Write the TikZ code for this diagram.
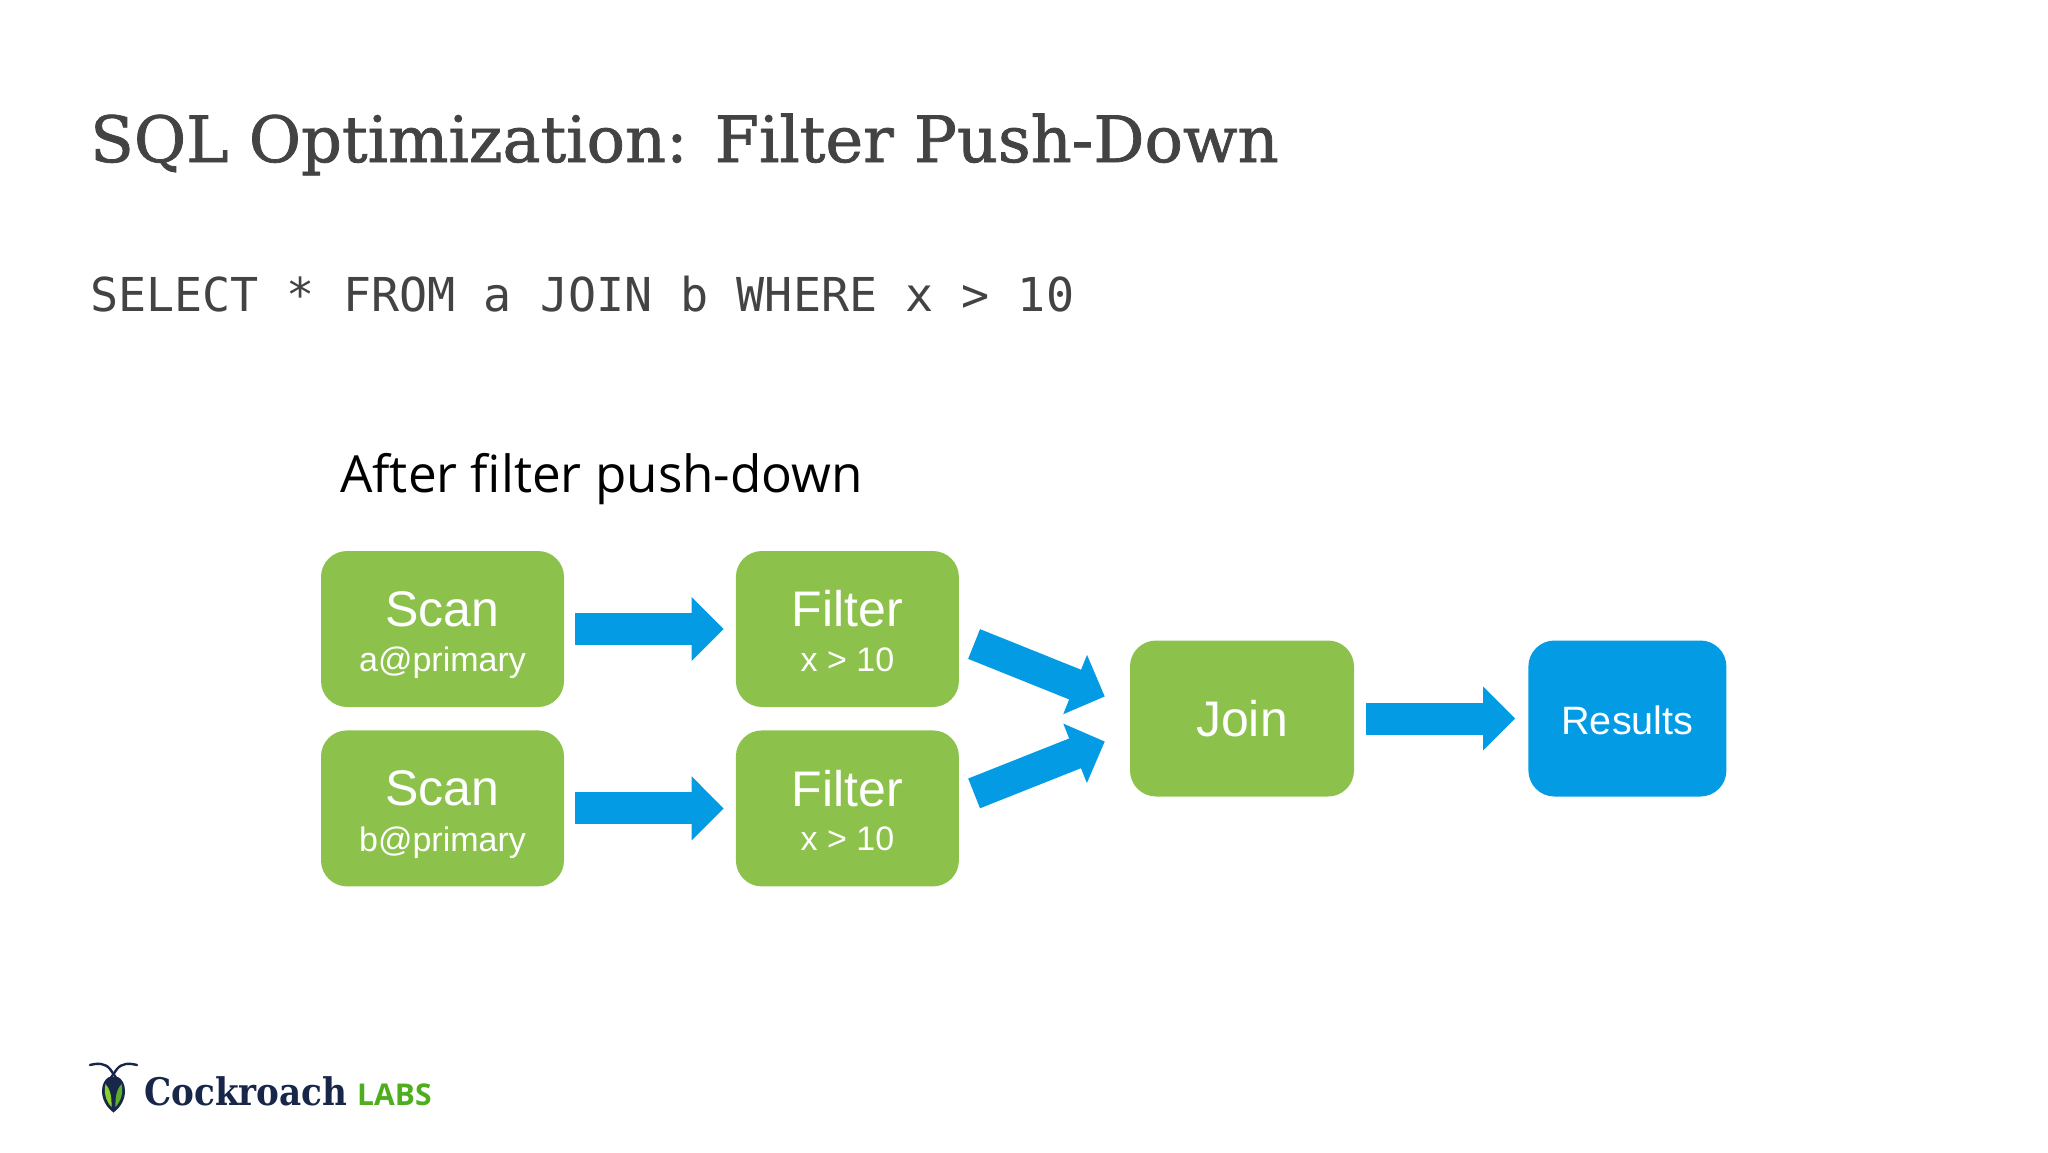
\documentclass[tikz,border=0pt]{standalone}
\usepackage{fontspec}
\usepackage{tikz}
\usetikzlibrary{positioning, arrows.meta}
\setmainfont{Liberation Sans}
\newfontfamily\titlefont[FakeBold=1.2]{DejaVu Serif}
\newfontfamily\roachfont[FakeStretch=0.9]{DejaVu Serif}
\newfontfamily\codefont{DejaVu Sans Mono}
\newfontfamily\headfont{Open Sans}
\newfontfamily\labsfont{Open Sans}
\definecolor{boxgreen}{HTML}{8CC24C}
\definecolor{flowblue}{HTML}{049BE5}
\definecolor{slategrey}{HTML}{434343}
\definecolor{roachnavy}{HTML}{18264A}
\definecolor{labsgreen}{HTML}{4FAE1E}
\definecolor{wingleft}{HTML}{8CD02E}
\definecolor{wingright}{HTML}{5FAE2A}
\newcommand{\boxlines}[2]{\rule{0pt}{49pt}{\fontsize{50}{50}\selectfont #1}\\[19.5pt]\rule[-9pt]{0pt}{9pt}{\fontsize{34}{34}\selectfont #2}}
\tikzset{x=1pt,y=-1pt,>=stealth,
opbox/.style={fill=boxgreen,text=white,rounded corners=26pt,align=center,minimum height=156pt,inner sep=0pt},
scanbox/.style={opbox,minimum width=243pt},
filterbox/.style={opbox,minimum width=223pt},
flow/.style={draw=flowblue,line width=32pt,-{Triangle[length=32pt,width=62pt]},flowblue},
txt/.style={anchor=base west,inner sep=0pt}}

\begin{document}
\begin{tikzpicture}
\useasboundingbox (0,0) rectangle (2048,1152);
\node[txt, text=slategrey] (title) at (90,162) {\titlefont\fontsize{63.8}{64}\selectfont SQL Optimization: Filter Push-Down};
\node[txt, text=slategrey] (query) at (90,311) {\codefont\fontsize{46.7}{46.7}\selectfont SELECT * FROM a JOIN b WHERE x > 10};
\node[txt] (head) at (340,492) {\headfont\fontsize{51.2}{52}\selectfont After filter push-down};

\node[scanbox] (scanA) at (442.5,629) {\boxlines{Scan}{a@primary}};
\node[scanbox, below=23pt of scanA] (scanB) {\boxlines{Scan}{b@primary}};
\node[filterbox, right=171.5pt of scanA] (filterA) {\boxlines{Filter}{x > 10}};
\node[filterbox, right=171.5pt of scanB] (filterB) {\boxlines{Filter}{x > 10}};
\node[filterbox, minimum width=224pt, font=\fontsize{50}{50}\selectfont] (join) at (1242,718.5) {Join};
\node[opbox, fill=flowblue, minimum width=198pt, text height=32pt, text depth=0pt, font=\fontsize{39.6}{40}\selectfont, right=174pt of join] (results) {Results};

\draw[flow] ([xshift=11pt]scanA.east) -- ([xshift=-12pt]filterA.west);
\draw[flow] ([xshift=11pt]scanB.east) -- ([xshift=-12pt]filterB.west);
\draw[flow] ([shift={(15,15)}]filterA.east) -- ([shift={(-25,-22)}]join.west);
\draw[flow] ([shift={(15,-15)}]filterB.east) -- ([shift={(-25,23)}]join.west);
\draw[flow] ([xshift=12pt]join.east) -- ([xshift=-13pt]results.west);

% logo
\draw[roachnavy, line width=2.4pt, line cap=round] (90,1065) .. controls (98,1063) and (105,1063) .. (110,1069) -- (117,1079);
\draw[roachnavy, line width=2.4pt, line cap=round] (137,1065) .. controls (129,1063) and (122,1063) .. (117,1069) -- (110,1079);
\fill[roachnavy] (113.5,1112.5) .. controls (106,1107) and (102,1099) .. (102,1091) .. controls (102,1084) and (105,1079) .. (109,1077) -- (118,1077) .. controls (122,1079) and (125,1084) .. (125,1091) .. controls (125,1099) and (121,1107) .. (113.5,1112.5) -- cycle;
\fill[wingleft] (111.5,1107) .. controls (106,1101) and (103.5,1093) .. (105.5,1084) .. controls (109,1088) and (112,1094) .. (111.5,1107) -- cycle;
\fill[wingright] (115.5,1107) .. controls (121,1101) and (123.5,1093) .. (121.5,1084) .. controls (118,1088) and (115,1094) .. (115.5,1107) -- cycle;
\node[txt, text=roachnavy] (cockroach) at (144,1105) {\roachfont\bfseries\fontsize{38}{38}\selectfont Cockroach};
\node[txt, text=labsgreen] (labs) at (357,1105) {\labsfont\bfseries\fontsize{30}{30}\selectfont LABS};
\end{tikzpicture}
\end{document}
